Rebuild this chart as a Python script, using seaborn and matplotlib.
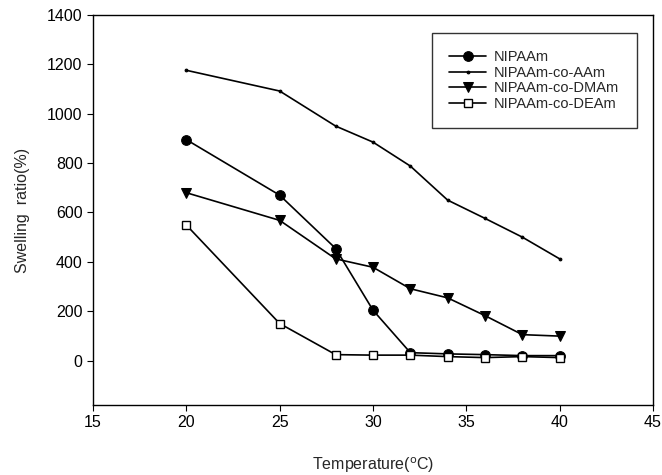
import matplotlib
matplotlib.use("Agg")
import matplotlib.pyplot as plt
import seaborn as sns
import pandas as pd

temps = [20, 25, 28, 30, 32, 34, 36, 38, 40]
nipaam = [895, 670, 454, 204, 32, 27, 24, 20, 20]
nipaam_aam = [1176, 1092, 950, 885, 788, 650, 576, 500, 412]
nipaam_dmam = [680, 568, 412, 378, 291, 254, 182, 105, 99]
nipaam_deam = [549, 150, 24, 22, 22, 16, 12, 16, 12]

series_names = ["NIPAAm", "NIPAAm-co-AAm", "NIPAAm-co-DMAm", "NIPAAm-co-DEAm"]
series_values = [nipaam, nipaam_aam, nipaam_dmam, nipaam_deam]

x_ticks = [15, 20, 25, 30, 35, 40, 45]
y_ticks = [0, 200, 400, 600, 800, 1000, 1200, 1400]

rows = []
for name, vals in zip(series_names, series_values):
    for t, v in zip(temps, vals):
        rows.append({"Temperature": t, "Swelling": v, "Sample": name})
df = pd.DataFrame(rows)

sns.set_style("ticks")
plt.rcParams['font.family'] = ['Liberation Sans', 'DejaVu Sans']

fig = plt.figure(figsize=(6.62, 4.75), dpi=100)
ax = fig.add_axes([0.1405, 0.1474, 0.8459, 0.821])

styles = {
    "NIPAAm": dict(marker="o", markersize=7, markerfacecolor="black", markeredgecolor="black"),
    "NIPAAm-co-AAm": dict(marker=".", markersize=4, markerfacecolor="black", markeredgecolor="black"),
    "NIPAAm-co-DMAm": dict(marker="v", markersize=7.5, markerfacecolor="black", markeredgecolor="black"),
    "NIPAAm-co-DEAm": dict(marker="s", markersize=6, markerfacecolor="white", markeredgecolor="black", markeredgewidth=1.0),
}

for name in series_names:
    sub = df[df["Sample"] == name]
    sns.lineplot(data=sub, x="Temperature", y="Swelling", ax=ax, color="black",
                 linewidth=1.2, label=name, **styles[name])

ax.set_xlim(15, 45)
ax.set_ylim(-180, 1400)
ax.set_xticks(x_ticks)
ax.set_yticks(y_ticks)
ax.tick_params(axis="both", labelsize=11.5, direction="out", length=4, width=0.8, colors="black")
for sp in ax.spines.values():
    sp.set_visible(True)
    sp.set_color("black")
    sp.set_linewidth(1.0)

ax.set_xlabel("Temperature($^{\\rm o}$C)", fontsize=11.5, labelpad=18)
ax.set_ylabel("Swelling  ratio(%)", fontsize=11.5, labelpad=12)

leg = ax.legend(loc="upper left", bbox_to_anchor=(0.605, 0.954), fontsize=10.5,
                frameon=True, fancybox=False, edgecolor="black", handlelength=2.5,
                handletextpad=0.55, borderpad=1.2, labelspacing=0.1, borderaxespad=0)
leg.get_frame().set_linewidth(1.0)

fig.savefig("out.png", dpi=100)
